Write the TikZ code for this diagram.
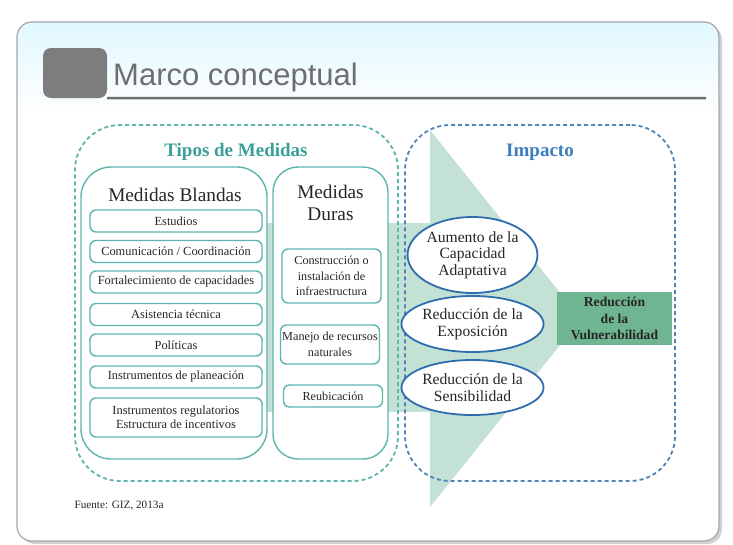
\documentclass[tikz,border=0pt]{standalone}
\usepackage{fontspec}
\setmainfont{Liberation Serif}
\newfontfamily\titlefont{Liberation Sans}
\usetikzlibrary{shapes.geometric}
\definecolor{tealline}{HTML}{5DB5AE}
\definecolor{tealtext}{HTML}{3A9F98}
\definecolor{bluedash}{HTML}{4F84B6}
\definecolor{bluetext}{HTML}{3C7DC0}
\definecolor{ellline}{HTML}{2F6DAE}
\definecolor{bandfill}{HTML}{C3E2D5}
\definecolor{darkfill}{HTML}{6FB592}
\definecolor{textdark}{HTML}{262626}
\definecolor{titlegrey}{HTML}{6E6E6E}
\begin{document}
\begin{tikzpicture}[x=1pt, y=-1pt,
    itembox/.style={draw=tealline, line width=1.4pt, rounded corners=6pt, fill=white,
      minimum width=172pt, minimum height=22pt, inner sep=1pt, align=center,
      text=textdark, font=\fontsize{12.4}{14}\selectfont},
    duritem/.style={itembox, minimum width=99pt, font=\fontsize{12.2}{15.5}\selectfont},
    colbox/.style={draw=tealline, line width=1.4pt, fill=white, minimum height=292pt},
    coltitle/.style={text=textdark, align=center, font=\fontsize{19.3}{22}\selectfont},
    dashbox/.style={line width=1.8pt, dash pattern=on 4pt off 3pt, rounded corners=45pt,
      minimum width=#1, minimum height=356pt},
    impact/.style={ellipse, draw=ellline, line width=1.8pt, fill=white, minimum width=125pt,
      inner sep=0pt, align=center, text=textdark, font=\fontsize{15.6}{16.5}\selectfont}]
  \useasboundingbox (0,0) rectangle (733,544);
  % slide card
  \fill[black!18, rounded corners=15pt] (20,25) rectangle (722,544);
  \fill[white, rounded corners=15pt] (17,22) rectangle (719,541);
  \shade[rounded corners=15pt, top color=blue!25!cyan!12, bottom color=white] (17,22) rectangle (719,115);
  \draw[black!35, line width=1.2pt, rounded corners=15pt] (17,22) rectangle (719,541);
  % title
  \node[fill=titlegrey!90, rounded corners=8pt, minimum width=64pt, minimum height=50pt] (sq) at (75,73) {};
  \draw[titlegrey, line width=2.5pt] (sq.south east) -- (706,98);
  \node[anchor=base west, text=titlegrey, inner sep=0pt, font=\titlefont\fontsize{31}{33}\selectfont] (title) at (113,85) {Marco conceptual};
  % arrow
  \fill[bandfill] (267,223) rectangle (430,412);
  \fill[bandfill] (430,130) -- (581,319) -- (430,507) -- cycle;
  \node[fill=darkfill, minimum width=115pt, minimum height=53pt, inner sep=0pt, align=center,
    text=textdark, font=\bfseries\fontsize{13.6}{16.5}\selectfont] (vuln) at (614.5,318.5)
    {Reducción\\de la\\Vulnerabilidad};
  % frames
  \node[dashbox=323pt, draw=tealline] (tipos) at (236.5,303) {};
  \node[dashbox=270pt, draw=bluedash] (impacto) at (540,303) {};
  \node[text=tealtext, font=\bfseries\fontsize{19}{21}\selectfont] (tiposlbl) at (236,152) {Tipos de Medidas};
  \node[text=bluetext, font=\bfseries\fontsize{19}{21}\selectfont] (impactolbl) at (540,152) {Impacto};
  % medidas blandas
  \node[colbox, rounded corners=30pt, minimum width=186pt] (blandas) at (174,313) {};
  \node[coltitle] (blandaslbl) at (175,195) {Medidas Blandas};
  \node[itembox] (estudios) at (176,221)   {Estudios};
  \node[itembox] (comunic)  at (176,251.5) {Comunicación / Coordinación};
  \node[itembox] (fortal)   at (176,282)   {Fortalecimiento de capacidades};
  \node[itembox] (asist)    at (176,314.5) {Asistencia técnica};
  \node[itembox] (polit)    at (176,345)   {Políticas};
  \node[itembox] (planea)   at (176,377)   {Instrumentos de planeación};
  \node[itembox, minimum height=39pt] (regul) at (176,417.5) {Instrumentos regulatorios\\Estructura de incentivos};
  % medidas duras
  \node[colbox, rounded corners=25pt, minimum width=115pt] (duras) at (330.5,313) {};
  \node[coltitle] (duraslbl) at (330.5,203) {Medidas\\Duras};
  \node[duritem, minimum height=54pt] (constr) at (331.5,276) {Construcción o\\instalación de\\infraestructura};
  \node[duritem, minimum height=39pt] (manejo) at (330,344.5) {Manejo de recursos\\naturales};
  \node[duritem] (reubic) at (333,396) {Reubicación};
  % impactos
  \node[impact, minimum height=76pt] (aumento) at (472.5,255) {Aumento de la\\Capacidad\\Adaptativa};
  \node[impact, minimum height=56pt] (expos)   at (472.5,324) {Reducción de la\\Exposición};
  \node[impact, minimum height=55pt] (sensib)  at (472.5,387.5) {Reducción de la\\Sensibilidad};
  % fuente
  \node[anchor=west, text=textdark, font=\fontsize{11.2}{13}\selectfont] (fuente) at (71,506) {Fuente: GIZ, 2013a};
\end{tikzpicture}
\end{document}
